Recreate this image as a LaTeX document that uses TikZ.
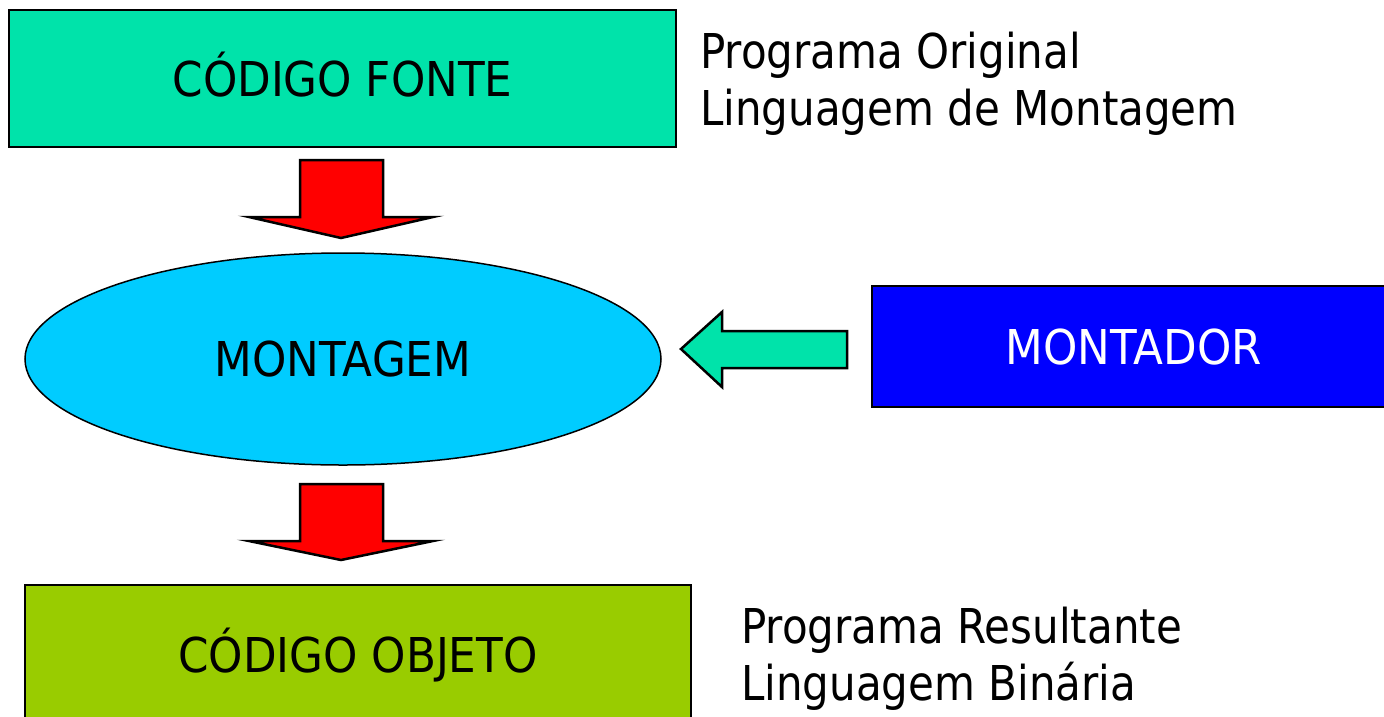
\documentclass[tikz,border=0pt]{standalone}
\usepackage{fontspec}
\setmainfont{DejaVu Sans}[FakeStretch=0.91]
\newfontfamily\sidefont{DejaVu Sans}[FakeStretch=0.875]
\usetikzlibrary{shapes.geometric}
\definecolor{srcgreen}{RGB}{0,227,170}
\definecolor{ellcyan}{RGB}{0,204,255}
\definecolor{asmblue}{RGB}{0,0,255}
\definecolor{objgreen}{RGB}{153,204,0}
\definecolor{arrred}{RGB}{255,0,0}
\tikzset{
  bigfont/.style={font=\fontsize{48}{57}\selectfont},
  boxnode/.style={draw=black, line width=2.5pt, rectangle, inner sep=0pt, bigfont, text height=35pt, text depth=0pt},
  blockarrow/.style={draw=black, line width=2.5pt, line join=miter},
  sidetext/.style={anchor=base west, inner sep=0pt, font=\sidefont\fontsize{48}{57}\selectfont}
}
\begin{document}
\begin{tikzpicture}[x=1pt,y=-1pt]
\useasboundingbox (0,0) rectangle (1384,716);
\fill[white] (0,0) rectangle (1384,716);
\begin{scope}
\clip (0,0) rectangle (1384,716);
% boxes
\node[boxnode, fill=srcgreen, minimum width=667pt, minimum height=137pt] (src) at (342.5,78.5) {CÓDIGO FONTE};
\node[draw=black, line width=1.5pt, ellipse, fill=ellcyan, minimum width=636pt, minimum height=212pt, inner sep=0pt, bigfont, text height=35pt, text depth=0pt] (mont) at (343,359) {MONTAGEM};
\node[boxnode, fill=asmblue, text=white, minimum width=524pt, minimum height=121pt] (asm) at (1134,346.5) {MONTADOR};
\node[boxnode, fill=objgreen, minimum width=666pt, minimum height=140pt] (obj) at (358,655) {CÓDIGO OBJETO};
% block arrows
\draw[blockarrow, fill=arrred] (300,160) -- (383,160) -- (383,217) -- (433,217) -- (341,238) -- (249,217) -- (300,217) -- cycle;
\draw[blockarrow, fill=arrred] (300,484) -- (383,484) -- (383,541) -- (433,541) -- (341,560) -- (249,541) -- (300,541) -- cycle;
\draw[blockarrow, fill=srcgreen] (847,331) -- (722,331) -- (722,312) -- (681,349) -- (722,387) -- (722,368) -- (847,368) -- cycle;
\end{scope}
% side texts
\node[sidetext] (t1) at (700,68) {Programa Original};
\node[sidetext] (t2) at (700,125) {Linguagem de Montagem};
\node[sidetext] (t3) at (741,643) {Programa Resultante};
\node[sidetext] (t4) at (741,700) {Linguagem Binária};
\end{tikzpicture}
\end{document}
